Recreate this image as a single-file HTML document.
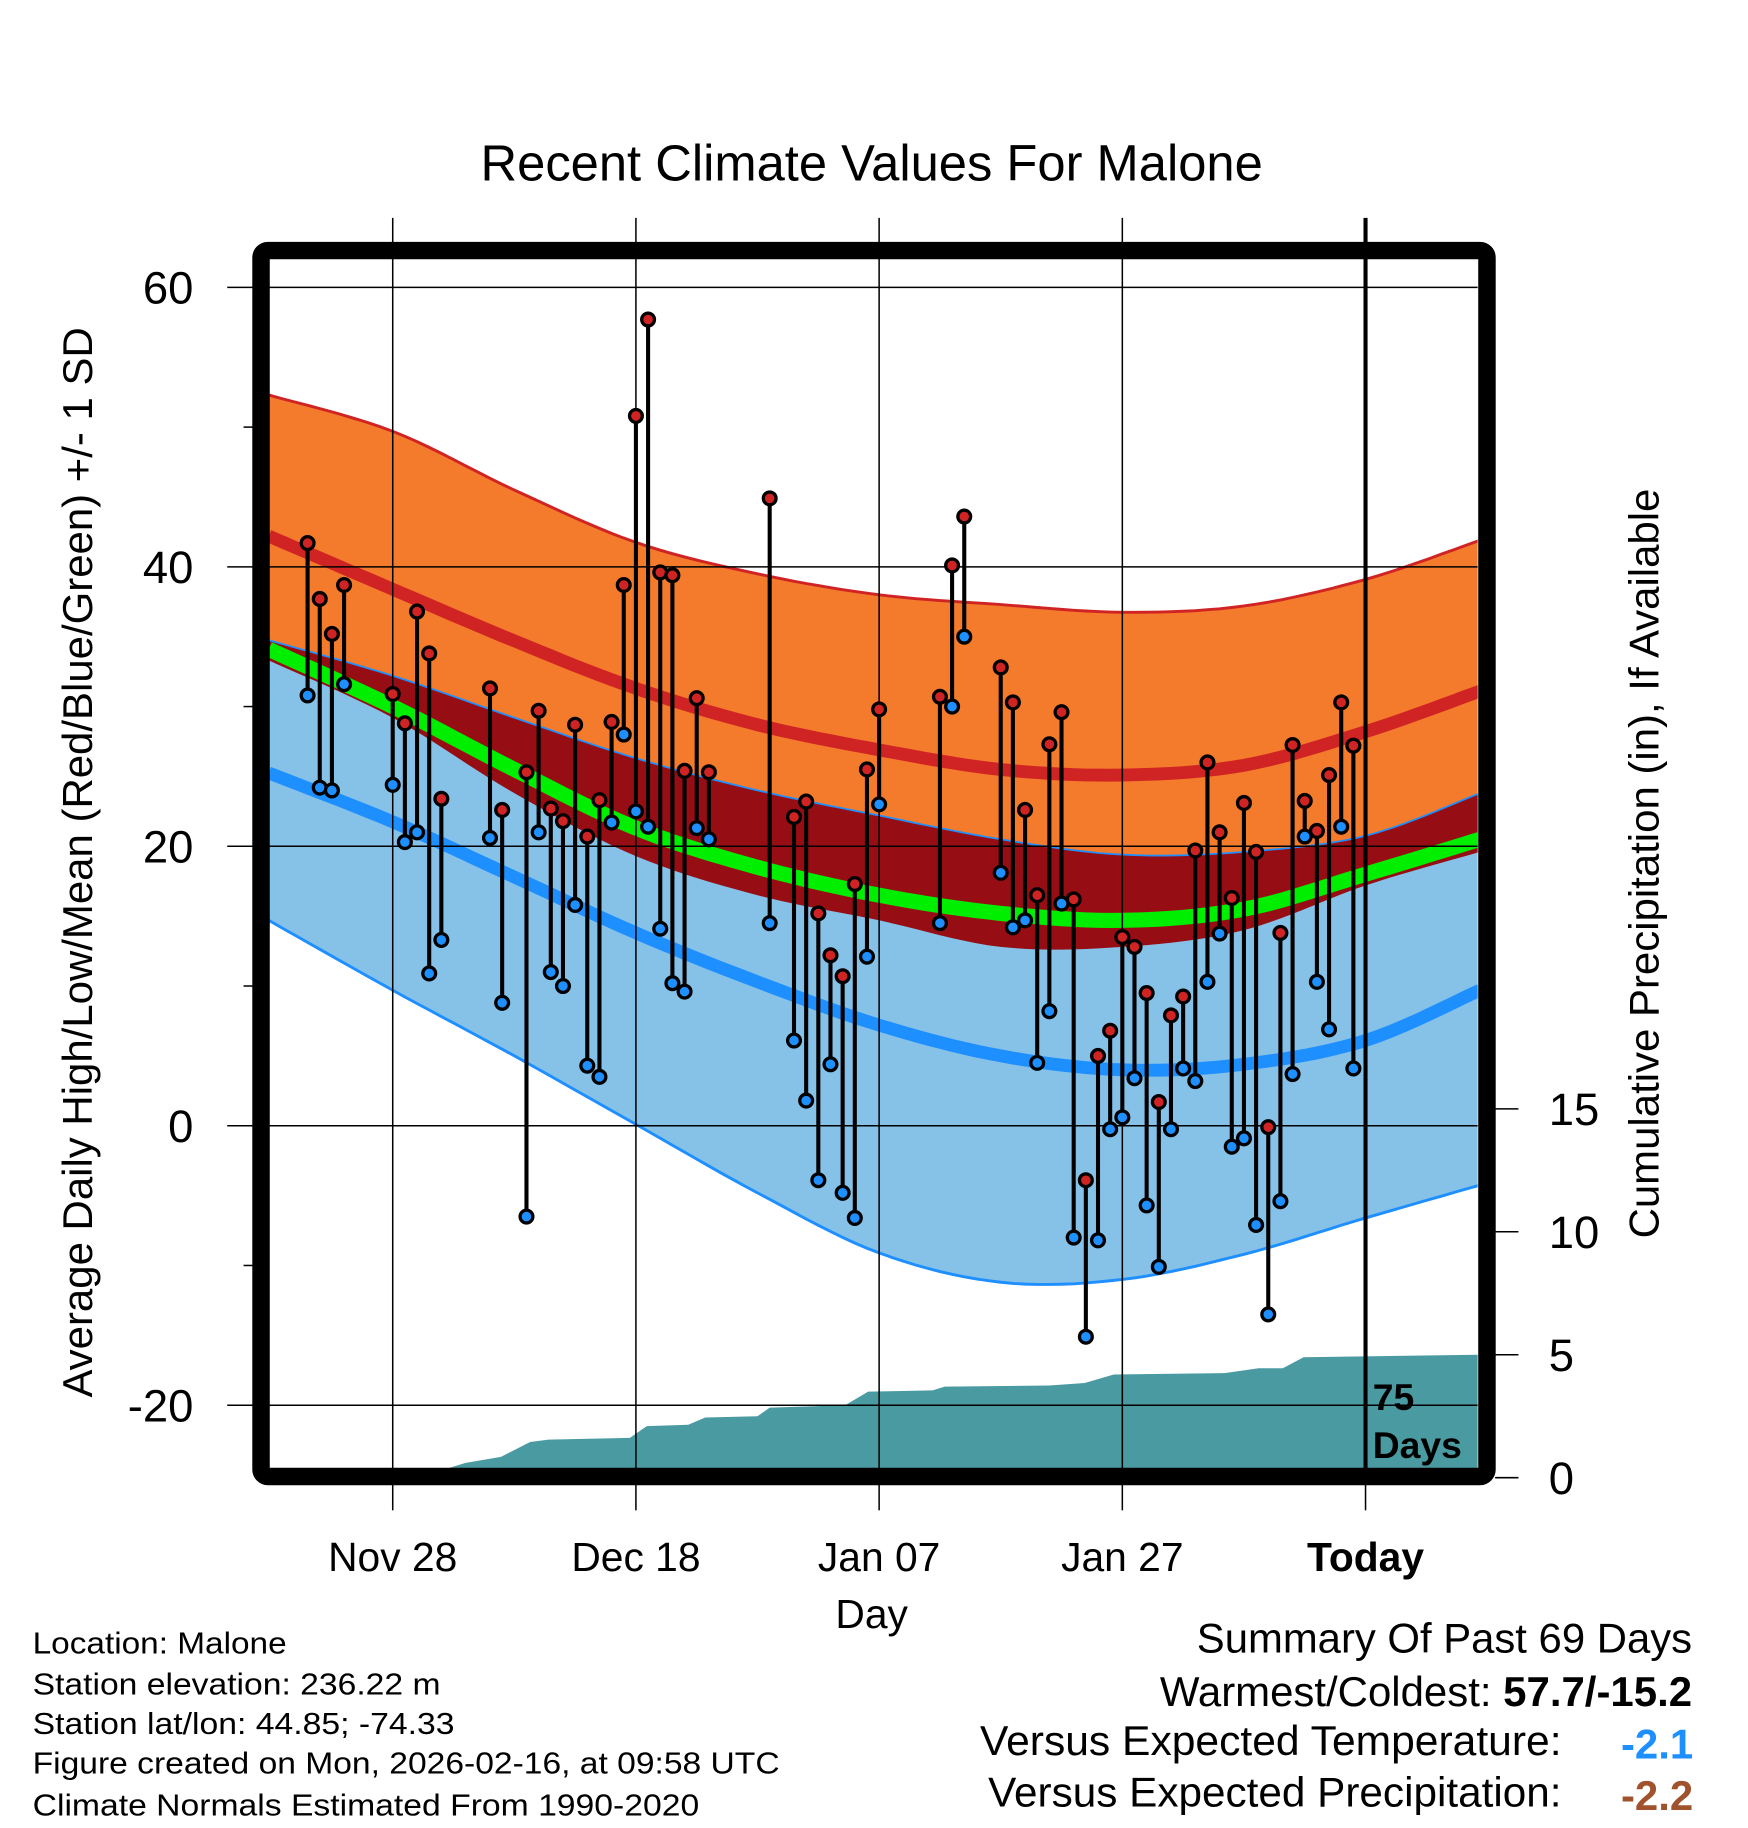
<!DOCTYPE html>
<html><head><meta charset="utf-8">
<style>
html,body{margin:0;padding:0;background:#fff;}
svg{display:block;font-family:"Liberation Sans",Arial,sans-serif;}
</style></head>
<body>
<svg id="chart" width="1748" height="1828" viewBox="0 0 1500 1568.6" preserveAspectRatio="none" xmlns="http://www.w3.org/2000/svg">
<defs><clipPath id="clip"><rect x="231" y="222" width="1037" height="1038"/></clipPath></defs>
<g id="bands" clip-path="url(#clip)"></g>
<g id="precip" clip-path="url(#clip)"></g>
<g id="grid"></g>
<g id="marks"></g>
<rect x="224" y="215" width="1052" height="1052" rx="6" fill="none" stroke="#000" stroke-width="15"/>
<text x="748" y="155" font-size="43.5" text-anchor="middle">Recent Climate Values For Malone</text>
<text transform="translate(79,740) rotate(-90)" font-size="36" text-anchor="middle">Average Daily High/Low/Mean (Red/Blue/Green) +/- 1 SD</text>
<text transform="translate(1423,741) rotate(-90)" font-size="36" text-anchor="middle">Cumulative Precipitation (in), If Available</text>
<text x="748" y="1397" font-size="35" text-anchor="middle">Day</text>
<text x="1178" y="1210" font-size="32" font-weight="bold">75</text>
<text x="1178" y="1251" font-size="32" font-weight="bold">Days</text>
<g font-size="26">
<text x="28" y="1419" textLength="218" lengthAdjust="spacingAndGlyphs">Location: Malone</text>
<text x="28" y="1454" textLength="350" lengthAdjust="spacingAndGlyphs">Station elevation: 236.22 m</text>
<text x="28" y="1488" textLength="362" lengthAdjust="spacingAndGlyphs">Station lat/lon: 44.85; -74.33</text>
<text x="28" y="1522" textLength="641" lengthAdjust="spacingAndGlyphs">Figure created on Mon, 2026-02-16, at 09:58 UTC</text>
<text x="28" y="1558" textLength="572" lengthAdjust="spacingAndGlyphs">Climate Normals Estimated From 1990-2020</text>
</g>
<g font-size="36" text-anchor="end">
<text x="1452" y="1418" textLength="425" lengthAdjust="spacingAndGlyphs">Summary Of Past 69 Days</text>
<text x="1452" y="1464">Warmest/Coldest: <tspan font-weight="bold">57.7/-15.2</tspan></text>
<text x="1340" y="1506" textLength="499" lengthAdjust="spacingAndGlyphs">Versus Expected Temperature:</text>
<text x="1453" y="1509" font-weight="bold" fill="#1e8fff">-2.1</text>
<text x="1340" y="1550" textLength="492" lengthAdjust="spacingAndGlyphs">Versus Expected Precipitation:</text>
<text x="1453" y="1553" font-weight="bold" fill="#a0522d">-2.2</text>
</g>
</svg>
<script>
// ---- data ----
const normDays = [-10.2, 0, 10, 20, 30, 40, 50, 60, 70, 80, 89.4];
const hiPlus  = [52.3, 49.7, 45.5, 41.75, 39.5, 38.0, 37.3, 36.75, 37.2, 39.1, 41.9];
const hiNorm  = [42.2, 38.4, 34.7, 31.3, 28.7, 26.9, 25.5, 25.1, 25.8, 28.2, 31.1];
const meanNorm= [34.1, 30.0, 25.5, 21.3, 18.5, 16.5, 15.2, 14.7, 15.5, 18.0, 20.5];
const hiMinus = [33.3, 29.2, 23.8, 19.3, 16.5, 14.7, 12.8, 12.8, 14.0, 17.2, 19.6];
const loPlus  = [34.75, 32.2, 29.2, 26.3, 24.0, 22.2, 20.5, 19.4, 19.6, 20.75, 23.8];
const loNorm  = [25.25, 21.75, 17.8, 13.8, 10.3, 7.2, 5.0, 4.0, 4.4, 6.1, 9.7];
const loMinus = [14.7, 9.7, 5.0, 0.1, -4.8, -9.1, -11.2, -11.0, -9.2, -6.6, -4.25];
const obsDays = [-7,-6,-5,-4,0,1,2,3,4,8,9,11,12,13,14,15,16,17,18,19,20,21,22,23,24,25,26,31,33,34,35,36,37,38,39,40,45,46,47,50,51,52,53,54,55,56,57,58,59,60,61,62,63,64,65,66,67,68,69,70,71,72,73,74,75,76,77,78,79];
const obsHigh = [41.7,37.7,35.2,38.7,30.9,28.8,36.8,33.8,23.4,31.3,22.6,25.3,29.7,22.7,21.8,28.7,20.7,23.3,28.9,38.7,50.8,57.7,39.6,39.4,25.4,30.6,25.3,44.9,22.1,23.2,15.2,12.2,10.7,17.3,25.5,29.8,30.7,40.1,43.6,32.8,30.3,22.6,16.5,27.3,29.6,16.2,-3.9,5.0,6.8,13.5,12.8,9.5,1.7,7.9,9.25,19.7,26.0,21.0,16.3,23.1,19.6,-0.1,13.8,27.25,23.25,21.1,25.1,30.3,27.2];
const obsLow  = [30.8,24.2,24.0,31.6,24.4,20.3,21.0,10.9,13.3,20.6,8.8,-6.5,21.0,11.0,10.0,15.8,4.3,3.5,21.7,28.0,22.5,21.4,14.1,10.2,9.6,21.3,20.5,14.5,6.1,1.8,-3.9,4.4,-4.8,-6.6,12.1,23.0,14.5,30.0,35.0,18.1,14.2,14.7,4.5,8.2,15.9,-8.0,-15.1,-8.2,-0.25,0.6,3.4,-5.7,-10.1,-0.25,4.1,3.2,10.3,13.75,-1.5,-0.9,-7.1,-13.5,-5.4,3.7,20.7,10.3,6.9,21.4,4.1];
const precipDays = [-10.2,2.0,6,8.9,11.3,12.8,19.5,20.9,24.3,25.7,30,31,37.2,39.1,44.4,45.4,54,56.9,59.3,68.4,71.2,73.2,74.9,89.4];
const precipCum  = [0,0,0.6,0.85,1.45,1.55,1.62,2.1,2.15,2.45,2.5,2.85,2.95,3.5,3.55,3.7,3.75,3.85,4.2,4.25,4.45,4.45,4.9,5.0];
const yTicks = [60,40,20,0,-20];
const yMinor = [50,30,10,-10];
const xTickDays = [0,20,40,60,80];
const xTickLabels = ["Nov 28","Dec 18","Jan 07","Jan 27","Today"];
const pTicks = [0,5,10,15];

// ---- scales ----
const X = d => 337 + d * 10.435;
const Y = v => 966 - v * 11.99;
const P = p => 1268 - p * 21.1;
const NS = "http://www.w3.org/2000/svg";
function mk(tag, parent, attrs){const e=document.createElementNS(NS,tag);for(const k in attrs)e.setAttribute(k,attrs[k]);parent.appendChild(e);return e;}
const bands = document.getElementById('bands');
const grid = document.getElementById('grid');
const marks = document.getElementById('marks');
const svg = document.getElementById('chart');

// smooth (Catmull-Rom) sampling of a normals series
function smooth(arr){
  const out=[]; const n=arr.length;
  for(let i=0;i<n-1;i++){
    const p0=[normDays[Math.max(i-1,0)],arr[Math.max(i-1,0)]], p1=[normDays[i],arr[i]], p2=[normDays[i+1],arr[i+1]], p3=[normDays[Math.min(i+2,n-1)],arr[Math.min(i+2,n-1)]];
    for(let s=0;s<10;s++){
      const t=s/10, t2=t*t, t3=t2*t;
      const f=(a,b,c,d)=>0.5*((2*b)+(-a+c)*t+(2*a-5*b+4*c-d)*t2+(-a+3*b-3*c+d)*t3);
      out.push([f(p0[0],p1[0],p2[0],p3[0]), f(p0[1],p1[1],p2[1],p3[1])]);
    }
  }
  out.push([normDays[n-1],arr[n-1]]);
  return out;
}
function line(arr){return smooth(arr).map(p=>X(p[0]).toFixed(1)+','+Y(p[1]).toFixed(1)).join(' ');}
function band(upper, lower){
  let pts = smooth(upper).map(p=>X(p[0]).toFixed(1)+','+Y(p[1]).toFixed(1));
  const lw = smooth(lower).reverse();
  lw.forEach(p=>pts.push(X(p[0]).toFixed(1)+','+Y(p[1]).toFixed(1)));
  return pts.join(' ');
}
let e;
e = mk('polygon', bands, {points: band(hiPlus, hiMinus), fill:'#f47a2c'});


e = mk('polygon', bands, {points: band(loPlus, loMinus), fill:'#86c1e8'});


const ovUpper = loPlus.map((v,i)=>Math.min(v, hiPlus[i]));
const ovLower = hiMinus.map((v,i)=>Math.max(v, loMinus[i]));
e = mk('polygon', bands, {points: band(ovUpper, ovLower), fill:'#960e14'});


e = mk('polyline', bands, {points: line(hiPlus), fill:'none', stroke:'#d02424', 'stroke-width':2.5});


e = mk('polyline', bands, {points: line(loPlus), fill:'none', stroke:'#1e8fff', 'stroke-width':1.5});


e = mk('polyline', bands, {points: line(loMinus), fill:'none', stroke:'#1e8fff', 'stroke-width':2.5});


e = mk('polyline', bands, {points: line(hiNorm), fill:'none', stroke:'#d02424', 'stroke-width':11});


e = mk('polyline', bands, {points: line(loNorm), fill:'none', stroke:'#1e8fff', 'stroke-width':11});


e = mk('polyline', bands, {points: line(meanNorm), fill:'none', stroke:'#00ee00', 'stroke-width':13});



// precipitation
let pp = 'M' + X(precipDays[0]) + ',' + P(0);
precipDays.forEach((d,i)=>{pp += ' L' + X(d).toFixed(1) + ',' + P(precipCum[i]).toFixed(1);});
pp += ' L' + X(precipDays[precipDays.length-1]) + ',' + P(0) + ' Z';
e = mk('path', document.getElementById('precip'), {d: pp, fill:'#4a9aa2'});



// grid + ticks
yTicks.forEach(v=>{
  e = mk('line', grid, {x1:195, x2:1268, y1:Y(v), y2:Y(v), stroke:'#000', 'stroke-width':1.3});
  
  
  e = mk('text', grid, {x:166, y:Y(v)+14, 'font-size':39, 'text-anchor':'end'});
  e.textContent = v;
  
  
});
yMinor.forEach(v=>{
  e = mk('line', grid, {x1:209, x2:220, y1:Y(v), y2:Y(v), stroke:'#000', 'stroke-width':1.3});
  
  
});
xTickDays.forEach((d,i)=>{
  const today = xTickLabels[i]==='Today';
  e = mk('line', grid, {x1:X(d), x2:X(d), y1:187, y2:1260, stroke:'#000', 'stroke-width': today?3.5:1.3});
  
  
  e = mk('line', grid, {x1:X(d), x2:X(d), y1:1274, y2:1296, stroke:'#000', 'stroke-width':1.3});
  
  
  e = mk('text', grid, {x:X(d), y:1348, 'font-size':35, 'text-anchor':'middle', 'font-weight': today?'bold':'normal'});
  e.textContent = xTickLabels[i];
  
  
});
pTicks.forEach(p=>{
  e = mk('line', svg, {x1:1283, x2:1303, y1:P(p), y2:P(p), stroke:'#000', 'stroke-width':1.3});
  
  
  e = mk('text', svg, {x:1329, y:P(p)+14, 'font-size':39});
  e.textContent = p;
  
  
});

// daily stems and dots
obsDays.forEach((d,i)=>{
  const x = X(d);
  e = mk('line', marks, {x1:x, x2:x, y1:Y(obsHigh[i]), y2:Y(obsLow[i]), stroke:'#000', 'stroke-width':3.5});
  
  
});
obsDays.forEach((d,i)=>{
  const x = X(d);
  e = mk('circle', marks, {cx:x, cy:Y(obsLow[i]), r:5.5, fill:'#1e8fff', stroke:'#000', 'stroke-width':2.8});
  
  
  e = mk('circle', marks, {cx:x, cy:Y(obsHigh[i]), r:5.5, fill:'#d02424', stroke:'#000', 'stroke-width':2.8});
  
  
});
</script>
</body></html>
